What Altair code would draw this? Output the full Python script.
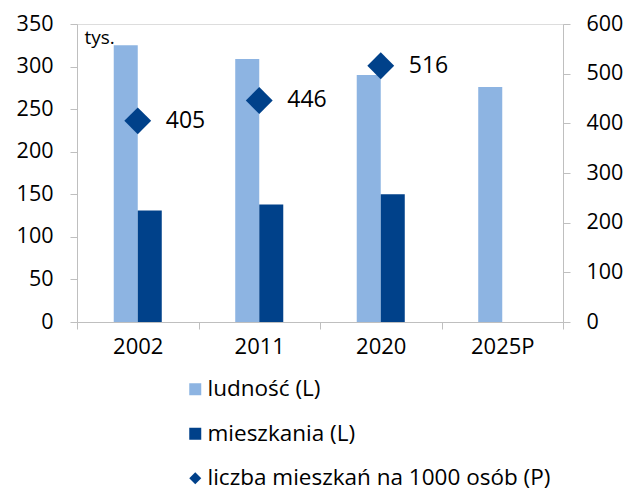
import altair as alt
import pandas as pd

years = ["2002", "2011", "2020", "2025P"]
ludnosc = [325, 309, 290, 276]
mieszkania_years = ["2002", "2011", "2020"]
mieszkania = [131, 138, 150]
ratio_years = ["2002", "2011", "2020"]
ratio = [405, 446, 516]

S1 = "ludność (L)"
S2 = "mieszkania (L)"
S3 = "liczba mieszkań na 1000 osób (P)"
series = [S1, S2, S3]
colors = ["#8DB4E2", "#00418A", "#00418A"]
shapes = ["square", "square", "diamond"]

bars_df = pd.DataFrame({
    "year": years + mieszkania_years,
    "value": ludnosc + mieszkania,
    "series": [S1] * len(ludnosc) + [S2] * len(mieszkania),
})
pts_df = pd.DataFrame({"year": ratio_years, "value": ratio, "series": [S3] * len(ratio)})

FONT = "Open Sans"
GREY = "#BFBFBF"

x_axis = alt.Axis(title=None, labelAngle=0, tickBand="extent",
                  labelFont=FONT, labelFontSize=22, labelColor="#000000",
                  domainColor=GREY, tickColor=GREY, tickSize=7, labelPadding=7, grid=False)
x_scale = alt.Scale(domain=years, paddingInner=0, paddingOuter=0)

legend = alt.Legend(title=None, orient="none", legendX=107, legendY=354, direction="vertical",
                    labelFont=FONT, labelFontSize=22.5, labelColor="#000000", labelLimit=0,
                    symbolSize=144, symbolStrokeWidth=0, rowPadding=21.5, labelOffset=1)

color = alt.Color("series:N", scale=alt.Scale(domain=series, range=colors), legend=legend)

right_axis = alt.Axis(orient="right", values=list(range(0, 601, 100)), title=None,
                      labelFont=FONT, labelFontSize=21.5, labelColor="#000000",
                      domainColor=GREY, tickColor=GREY, tickSize=7, labelPadding=16, grid=False)
right_scale = alt.Scale(domain=[0, 600])

# empty slots either side of the bar pair keep the pair centred and narrow within each year
offset_domain = ["_l", S1, S2, "_r"]

bars = alt.Chart(bars_df).mark_bar().encode(
    x=alt.X("year:N", scale=x_scale, axis=x_axis),
    xOffset=alt.XOffset("series:N", scale=alt.Scale(domain=offset_domain, paddingInner=0, paddingOuter=0.53)),
    y=alt.Y("value:Q", scale=alt.Scale(domain=[0, 350]),
            axis=alt.Axis(values=list(range(0, 351, 50)), title="tys.", titleAngle=0,
                          titleAlign="left", titleBaseline="alphabetic", titleX=7, titleY=19,
                          titleFont=FONT, titleFontSize=19, titleFontWeight="normal",
                          labelFont=FONT, labelFontSize=21.5, labelColor="#000000",
                          domainColor=GREY, tickColor=GREY, tickSize=7, labelPadding=17, grid=False)),
    color=color,
)

pts = alt.Chart(pts_df).mark_point(filled=True, size=720, opacity=1).encode(
    x=alt.X("year:N", scale=x_scale, axis=x_axis),
    y=alt.Y("value:Q", scale=right_scale, axis=right_axis),
    color=color,
    shape=alt.Shape("series:N", scale=alt.Scale(domain=series, range=shapes), legend=legend),
)

labels = alt.Chart(pts_df).mark_text(align="left", baseline="middle", dx=28, font=FONT,
                                     fontSize=23, color="#000000").encode(
    x=alt.X("year:N", scale=x_scale, axis=x_axis),
    y=alt.Y("value:Q", scale=right_scale, axis=right_axis),
    text=alt.Text("value:Q"),
)

chart = alt.layer(bars, alt.layer(pts, labels)).resolve_scale(y="independent").properties(
    width=486, height=298,
    autosize=alt.AutoSizeParams(type="none"),
    padding={"left": 69, "top": 16, "right": 69, "bottom": 171},
).configure_view(stroke=None).configure(font=FONT)

chart.save("out.html", embed_options={"renderer": "svg", "actions": False})
